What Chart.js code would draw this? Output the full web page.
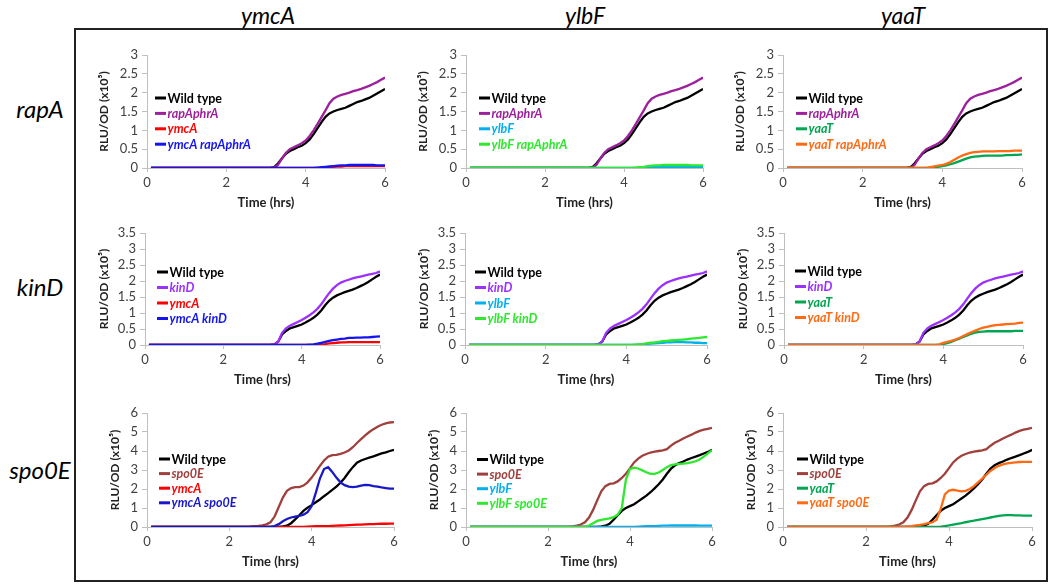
<!DOCTYPE html>
<html>
<head>
<meta charset="utf-8">
<script src="https://cdn.jsdelivr.net/npm/chart.js@4.4.0/dist/chart.umd.min.js"></script>
<style>
  body { margin: 0; background: #fff; width: 1050px; height: 585px; position: relative; overflow: hidden; font-family: Lato, sans-serif; }
  #frame { position: absolute; left: 74px; top: 28px; width: 974px; height: 554px; border: 2px solid #222; box-sizing: border-box; }
  .col { position: absolute; top: 1px; font-style: italic; font-size: 23px; transform: translateX(-50%); }
  .row { position: absolute; left: 40px; font-style: italic; font-size: 24px; transform: translate(-50%, -50%); }
  canvas { position: absolute; }
</style>
</head>
<body>
<div id="frame"></div>
<div class="col" style="left:268px">ymcA</div>
<div class="col" style="left:585px">ylbF</div>
<div class="col" style="left:903px">yaaT</div>
<div class="row" style="top:108px">rapA</div>
<div class="row" style="top:286px">kinD</div>
<div class="row" style="top:469px">spo0E</div>

<script>
// time points (hrs)
var hours = [0.1, 0.5, 1, 1.5, 2, 2.5, 2.6, 2.7, 2.8, 2.9, 3.0,
  3.1, 3.2, 3.3, 3.4, 3.5, 3.6, 3.7, 3.8, 3.9, 4.0,
  4.1, 4.2, 4.3, 4.4, 4.5, 4.6, 4.7, 4.8, 4.9, 5.0,
  5.1, 5.2, 5.3, 5.4, 5.5, 5.6, 5.7, 5.8, 5.9, 6.0];

// row 1: rapA
var wtRap = [0,0,0,0,0,0,0,0,0,0,0, 0,0.02,0.12,0.25,0.38,0.45,0.5,0.55,0.59,0.66, 0.76,0.9,1.06,1.22,1.36,1.45,1.5,1.54,1.57,1.6, 1.65,1.7,1.75,1.78,1.82,1.86,1.92,1.98,2.04,2.1];
var rapAphrA = [0,0,0,0,0,0,0,0,0,0,0, 0,0,0.08,0.25,0.4,0.5,0.55,0.6,0.66,0.73, 0.85,1.0,1.17,1.35,1.53,1.72,1.84,1.9,1.94,1.97, 2.0,2.04,2.07,2.1,2.14,2.18,2.23,2.28,2.34,2.4];
var ymcA_r1 = [0,0,0,0,0,0,0,0,0,0,0, 0,0,0,0,0,0,0,0,0,0, 0,0,0,0,0.01,0.02,0.03,0.04,0.04,0.05, 0.05,0.05,0.05,0.05,0.05,0.05,0.05,0.05,0.05,0.05];
var ymcA_rapAphrA = [0,0,0,0,0,0,0,0,0,0,0, 0,0,0,0,0,0,0,0,0,0, 0,0,0.01,0.02,0.03,0.04,0.05,0.06,0.07,0.07, 0.08,0.08,0.08,0.08,0.08,0.08,0.08,0.07,0.07,0.07];
var ylbF_r1 = [0,0,0,0,0,0,0,0,0,0,0, 0,0,0,0,0,0,0,0,0,0, 0,0,0,0,0.01,0.02,0.02,0.03,0.03,0.03, 0.03,0.03,0.03,0.03,0.03,0.03,0.03,0.03,0.03,0.03];
var ylbF_rapAphrA = [0,0,0,0,0,0,0,0,0,0,0, 0,0,0,0,0,0,0,0,0,0, 0,0,0.01,0.02,0.03,0.05,0.06,0.07,0.07,0.08, 0.08,0.08,0.08,0.08,0.08,0.08,0.07,0.07,0.07,0.07];
var yaaT_r1 = [0,0,0,0,0,0,0,0,0,0,0, 0,0,0,0,0,0,0,0.01,0.03,0.05, 0.07,0.1,0.13,0.17,0.21,0.25,0.28,0.3,0.31,0.32, 0.33,0.33,0.33,0.33,0.33,0.34,0.34,0.35,0.35,0.36];
var yaaT_rapAphrA = [0,0,0,0,0,0,0,0,0,0,0, 0,0,0,0,0,0,0.02,0.04,0.06,0.08, 0.11,0.16,0.22,0.28,0.33,0.37,0.4,0.42,0.43,0.44, 0.44,0.44,0.44,0.45,0.45,0.45,0.45,0.46,0.46,0.46];

// row 2: kinD
var wtKin = [0,0,0,0,0,0,0,0,0,0,0, 0,0,0.02,0.1,0.33,0.44,0.52,0.56,0.6,0.64, 0.7,0.77,0.85,0.95,1.08,1.24,1.38,1.48,1.55,1.6, 1.65,1.69,1.73,1.78,1.84,1.9,1.97,2.05,2.13,2.2];
var kinD = [0,0,0,0,0,0,0,0,0,0,0, 0,0,0.02,0.1,0.38,0.52,0.6,0.66,0.72,0.78, 0.85,0.93,1.02,1.13,1.27,1.45,1.62,1.76,1.87,1.95, 2.0,2.04,2.08,2.11,2.14,2.17,2.2,2.22,2.25,2.3];
var ymcA_r2 = [0,0,0,0,0,0,0,0,0,0,0, 0,0,0,0,0,0,0,0,0,0, 0,0,0,0,0.02,0.03,0.05,0.06,0.07,0.08, 0.08,0.09,0.09,0.09,0.09,0.09,0.09,0.09,0.09,0.09];
var ymcA_kinD = [0,0,0,0,0,0,0,0,0,0,0, 0,0,0,0,0,0,0,0,0,0, 0,0.01,0.02,0.04,0.07,0.1,0.13,0.15,0.17,0.19, 0.2,0.22,0.22,0.23,0.23,0.24,0.24,0.25,0.26,0.27];
var ylbF_r2 = [0,0,0,0,0,0,0,0,0,0,0, 0,0,0,0,0,0,0,0,0,0, 0,0,0.01,0.02,0.03,0.04,0.05,0.06,0.07,0.08, 0.08,0.09,0.09,0.09,0.08,0.08,0.07,0.07,0.06,0.06];
var ylbF_kinD = [0,0,0,0,0,0,0,0,0,0,0, 0,0,0,0,0,0,0,0,0,0, 0,0.01,0.02,0.03,0.05,0.07,0.08,0.1,0.12,0.13, 0.14,0.15,0.16,0.17,0.18,0.2,0.21,0.22,0.24,0.25];
var yaaT_r2 = [0,0,0,0,0,0,0,0,0,0,0, 0,0,0,0,0,0,0,0,0,0.03, 0.06,0.1,0.15,0.2,0.25,0.3,0.35,0.39,0.41,0.42, 0.43,0.43,0.43,0.43,0.43,0.43,0.43,0.44,0.44,0.44];
var yaaT_kinD = [0,0,0,0,0,0,0,0,0,0,0, 0,0,0,0,0,0,0,0,0.02,0.07, 0.1,0.13,0.17,0.22,0.28,0.34,0.4,0.45,0.5,0.54, 0.57,0.6,0.62,0.63,0.64,0.65,0.66,0.67,0.69,0.7];

// row 3: spo0E
var wtSpo_c1 = [0,0,0,0,0,0,0,0,0,0,0, 0,0.01,0.03,0.07,0.2,0.4,0.62,0.85,1.02,1.15, 1.3,1.45,1.62,1.78,1.95,2.13,2.33,2.58,2.88,3.15, 3.38,3.5,3.58,3.65,3.72,3.8,3.87,3.93,4.0,4.06];
var spo0E_c1 = [0,0,0,0,0,0.02,0.04,0.06,0.09,0.14,0.25, 0.55,1.05,1.55,1.9,2.05,2.1,2.1,2.18,2.35,2.6, 2.9,3.22,3.5,3.7,3.78,3.8,3.85,3.92,4.03,4.2, 4.42,4.62,4.82,5.0,5.15,5.28,5.38,5.45,5.5,5.52];
var ymcA_r3 = [0,0,0,0,0,0,0,0,0,0,0, 0,0,0,0,0,0,0,0.01,0.02,0.03, 0.04,0.04,0.05,0.05,0.06,0.07,0.08,0.09,0.1,0.11, 0.12,0.13,0.14,0.15,0.15,0.16,0.17,0.17,0.18,0.18];
var ymcA_spo0E = [0,0,0,0,0,0,0,0,0,0,0.01, 0.05,0.15,0.3,0.42,0.5,0.55,0.58,0.65,0.78,1.1, 1.8,2.55,3.05,3.15,2.9,2.6,2.35,2.2,2.13,2.1, 2.12,2.18,2.22,2.2,2.15,2.12,2.08,2.05,2.02,2.02];
var wtSpo = [0,0,0,0,0,0,0,0,0,0,0, 0,0.01,0.03,0.07,0.17,0.38,0.62,0.85,1.0,1.1, 1.2,1.35,1.5,1.65,1.83,2.03,2.25,2.5,2.8,3.07, 3.25,3.36,3.45,3.55,3.63,3.7,3.78,3.87,3.95,4.06];
var spo0E = [0,0,0,0,0,0.01,0.03,0.07,0.13,0.25,0.5, 0.9,1.4,1.88,2.15,2.27,2.3,2.4,2.58,2.8,3.1, 3.4,3.6,3.75,3.84,3.92,3.97,4.0,4.03,4.1,4.28, 4.43,4.54,4.66,4.76,4.86,4.97,5.06,5.12,5.17,5.22];
var ylbF_r3 = [0,0,0,0,0,0,0,0,0,0,0, 0,0,0,0,0,0,0,0,0,0, 0.01,0.02,0.03,0.04,0.05,0.05,0.06,0.07,0.07,0.08, 0.08,0.08,0.08,0.08,0.08,0.08,0.07,0.07,0.07,0.07];
var ylbF_spo0E = [0,0,0,0,0,0,0,0,0,0.01,0.08, 0.2,0.32,0.38,0.42,0.45,0.52,0.65,1.0,2.5,3.05, 3.12,3.08,2.98,2.88,2.8,2.8,2.87,3.0,3.15,3.26, 3.3,3.32,3.34,3.36,3.4,3.46,3.55,3.7,3.88,4.05];
var yaaT_r3 = [0,0,0,0,0,0,0,0,0,0,0, 0,0,0,0,0,0,0,0.02,0.05,0.08, 0.12,0.16,0.2,0.25,0.29,0.33,0.38,0.42,0.46,0.5, 0.54,0.58,0.61,0.62,0.62,0.61,0.61,0.6,0.6,0.6];
var yaaT_spo0E = [0,0,0,0,0,0,0,0,0,0.01,0.03, 0.05,0.08,0.11,0.15,0.2,0.25,0.38,0.95,1.72,1.92, 1.96,1.92,1.88,1.9,2.0,2.15,2.35,2.55,2.75,2.95, 3.1,3.22,3.3,3.35,3.38,3.4,3.42,3.43,3.43,3.43];

var xTicks = [0, 2, 4, 6];
var yTicksRapKin = [0, 0.5, 1, 1.5, 2, 2.5, 3, 3.5];
var yTicksSpo = [0, 1, 2, 3, 4, 5, 6];

var C = {
  wt: '#000000', rap: '#9c1f9c', kin: '#9b30ff', spo: '#a0403c',
  ymcA: '#ff0000', ymcAx: '#1414f0', ymcAx3: '#1818c8',
  ylbF: '#00b0f0', ylbFx: '#2ee82e',
  yaaT: '#00a650', yaaTx: '#ff6a13'
};

// panel geometry: pixel of x=0, x=6, y=max, y=0; legend offsets
var panels = [
  { x0: 147, x6: 385, yt: 55, yb: 168, ymax: 3, yw: 52, lx: 8, ly: 43, gap: 15.4,
    s: [['Wild type', wtRap, C.wt, false], ['rapAphrA', rapAphrA, C.rap, true], ['ymcA', ymcA_r1, C.ymcA, true], ['ymcA rapAphrA', ymcA_rapAphrA, C.ymcAx, true]] },
  { x0: 466, x6: 703, yt: 55, yb: 168, ymax: 3, yw: 52, lx: 13, ly: 43, gap: 15.4,
    s: [['Wild type', wtRap, C.wt, false], ['rapAphrA', rapAphrA, C.rap, true], ['ylbF', ylbF_r1, C.ylbF, true], ['ylbF rapAphrA', ylbF_rapAphrA, C.ylbFx, true]] },
  { x0: 783, x6: 1022, yt: 55, yb: 168, ymax: 3, yw: 52, lx: 13, ly: 43, gap: 15.4,
    s: [['Wild type', wtRap, C.wt, false], ['rapAphrA', rapAphrA, C.rap, true], ['yaaT', yaaT_r1, C.yaaT, true], ['yaaT rapAphrA', yaaT_rapAphrA, C.yaaTx, true]] },
  { x0: 145, x6: 380, yt: 233, yb: 345, ymax: 3.5, yw: 50, lx: 12, ly: 39, gap: 15.5,
    s: [['Wild type', wtKin, C.wt, false], ['kinD', kinD, C.kin, true], ['ymcA', ymcA_r2, C.ymcA, true], ['ymcA kinD', ymcA_kinD, C.ymcAx, true]] },
  { x0: 465, x6: 707, yt: 233, yb: 345, ymax: 3.5, yw: 50, lx: 10, ly: 39, gap: 15.5,
    s: [['Wild type', wtKin, C.wt, false], ['kinD', kinD, C.kin, true], ['ylbF', ylbF_r2, C.ylbF, true], ['ylbF kinD', ylbF_kinD, C.ylbFx, true]] },
  { x0: 784, x6: 1023, yt: 233, yb: 345, ymax: 3.5, yw: 50, lx: 11, ly: 38, gap: 15.5,
    s: [['Wild type', wtKin, C.wt, false], ['kinD', kinD, C.kin, true], ['yaaT', yaaT_r2, C.yaaT, true], ['yaaT kinD', yaaT_kinD, C.yaaTx, true]] },
  { x0: 147, x6: 394, yt: 413, yb: 527, ymax: 6, yw: 41, lx: 12, ly: 46, gap: 14.6,
    s: [['Wild type', wtSpo_c1, C.wt, false], ['spo0E', spo0E_c1, C.spo, true], ['ymcA', ymcA_r3, C.ymcA, true], ['ymcA spo0E', ymcA_spo0E, C.ymcAx3, true]] },
  { x0: 466, x6: 712, yt: 413, yb: 527, ymax: 6, yw: 41, lx: 11, ly: 46.5, gap: 14.6,
    s: [['Wild type', wtSpo, C.wt, false], ['spo0E', spo0E, C.spo, true], ['ylbF', ylbF_r3, C.ylbF, true], ['ylbF spo0E', ylbF_spo0E, C.ylbFx, true]] },
  { x0: 783, x6: 1032, yt: 413, yb: 527, ymax: 6, yw: 41, lx: 14, ly: 46, gap: 14.6,
    s: [['Wild type', wtSpo, C.wt, false], ['spo0E', spo0E, C.spo, true], ['yaaT', yaaT_r3, C.yaaT, true], ['yaaT spo0E', yaaT_spo0E, C.yaaTx, true]] }
];

var PAD_T = 10, PAD_R = 12, XH = 45;

// small inline legend: short thick dash + bold coloured label
var miniLegend = {
  id: 'miniLegend',
  afterDraw: function (chart, args, o) {
    var ctx = chart.ctx, a = chart.chartArea;
    chart.data.datasets.forEach(function (ds, i) {
      var x = a.left + o.dx, y = a.top + o.dy + i * o.gap;
      ctx.save();
      ctx.strokeStyle = ds.borderColor;
      ctx.lineWidth = 3;
      ctx.beginPath();
      ctx.moveTo(x, y);
      ctx.lineTo(x + 11, y);
      ctx.stroke();
      ctx.fillStyle = ds.borderColor;
      ctx.font = (ds.italic ? 'italic ' : '') + 'bold 12.5px Lato';
      ctx.textBaseline = 'middle';
      ctx.fillText(ds.label, x + 12.5, y + 0.5);
      ctx.restore();
    });
  }
};

function plain(v) { return String(v); }

panels.forEach(function (p) {
  var cv = document.createElement('canvas');
  var w = p.yw + (p.x6 - p.x0) + PAD_R;
  var h = PAD_T + (p.yb - p.yt) + XH;
  cv.width = w; cv.height = h;
  cv.style.left = (p.x0 - p.yw) + 'px';
  cv.style.top = (p.yt - PAD_T) + 'px';
  document.body.appendChild(cv);

  var yTicks = (p.ymax === 6 ? yTicksSpo : yTicksRapKin).filter(function (v) { return v <= p.ymax; });

  new Chart(cv, {
    type: 'line',
    data: {
      datasets: p.s.map(function (s, i) {
        return {
          label: s[0],
          data: hours.map(function (t, k) { return { x: t, y: s[1][k] }; }),
          borderColor: s[2],
          italic: s[3],
          borderWidth: 2.3,
          pointRadius: 0,
          tension: 0,
          order: -i
        };
      })
    },
    plugins: [miniLegend],
    options: {
      responsive: false,
      animation: false,
      devicePixelRatio: 1,
      layout: { padding: { top: PAD_T, right: PAD_R, left: 0, bottom: 0 } },
      plugins: {
        legend: { display: false },
        tooltip: { enabled: false },
        miniLegend: { dx: p.lx, dy: p.ly, gap: p.gap }
      },
      scales: {
        x: {
          type: 'linear', min: 0, max: 6,
          afterBuildTicks: function (s) { s.ticks = xTicks.map(function (v) { return { value: v }; }); },
          ticks: { color: '#404040', font: { family: 'Lato', size: 13 }, padding: 3, maxRotation: 0, autoSkip: false, callback: plain },
          grid: { drawOnChartArea: false, drawTicks: true, tickLength: 4, color: '#bfbfbf' },
          border: { color: '#bfbfbf', width: 1 },
          title: { display: true, text: 'Time (hrs)', color: '#222', font: { family: 'Lato', size: 13, weight: 'bold' }, padding: { top: 0, bottom: 2 } },
          afterFit: function (s) { s.height = XH; s.paddingLeft = 0; s.paddingRight = 0; }
        },
        y: {
          min: 0, max: p.ymax,
          afterBuildTicks: function (s) { s.ticks = yTicks.map(function (v) { return { value: v }; }); },
          ticks: { color: '#404040', font: { family: 'Lato', size: 13 }, padding: 4, autoSkip: false, callback: plain },
          grid: { drawOnChartArea: false, drawTicks: true, tickLength: 5, color: '#bfbfbf' },
          border: { color: '#bfbfbf', width: 1 },
          title: { display: true, text: 'RLU/OD (x10\u2075)', color: '#222', font: { family: 'Lato', size: 12, weight: 'bold' }, padding: { top: 2, bottom: 0 } },
          afterFit: function (s) { s.width = p.yw; s.paddingTop = 0; s.paddingBottom = 0; }
        }
      }
    }
  });
});
</script>
</body>
</html>
